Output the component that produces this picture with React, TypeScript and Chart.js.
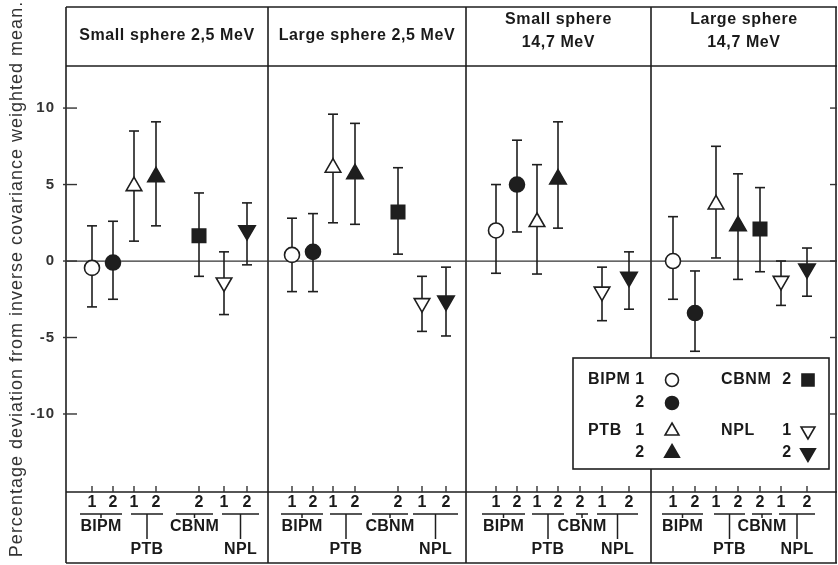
import React, { useEffect, useRef } from 'react';
import { Chart, registerables } from 'chart.js';
import { drawPoint } from 'chart.js/helpers';

Chart.register(...registerables);

// ---------- data ----------
const PANEL_TITLES = [
  ['Small sphere 2,5 MeV'],
  ['Large sphere 2,5 MeV'],
  ['Small sphere', '14,7 MeV'],
  ['Large sphere', '14,7 MeV'],
];
const Y_TITLE = 'Percentage deviation from inverse covariance weighted mean.';
const Y_TICKS = [-10, -5, 0, 5, 10];
const Y_MIN = -15.1;
const Y_MAX = 12.75;

// x axis (arbitrary units): panel edges and the 7 measurement slots in each panel
const PANEL_EDGES = [0, 20.2, 40.0, 58.5, 77.1];
const SLOT_X = [
  [2.6, 4.7, 6.8, 9.0, 13.3, 15.8, 18.1],
  [22.6, 24.7, 26.7, 28.9, 33.2, 35.6, 38.0],
  [43.0, 45.1, 47.1, 49.2, 51.4, 53.6, 56.3],
  [60.7, 62.9, 65.0, 67.2, 69.4, 71.5, 74.1],
];
const SLOT_LABELS = ['1', '2', '1', '2', '2', '1', '2'];

// bottom labelling groups per panel: [label, spanFrom, spanTo, row]
const GROUPS_P1: [string, number, number, number][] = [['BIPM', 1.4, 5.6, 1], ['PTB', 6.5, 9.7, 2], ['CBNM', 11.0, 14.7, 1], ['NPL', 15.6, 19.3, 2]];
const GROUPS_P2: [string, number, number, number][] = [['BIPM', 21.5, 25.7, 1], ['PTB', 26.4, 29.6, 2], ['CBNM', 30.6, 34.2, 1], ['NPL', 34.7, 39.2, 2]];
const GROUPS_P3: [string, number, number, number][] = [['BIPM', 41.6, 45.9, 1], ['PTB', 46.6, 49.8, 2], ['CBNM', 51.0, 52.2, 1], ['NPL', 53.1, 57.2, 2]];
const GROUPS_P4: [string, number, number, number][] = [['BIPM', 59.6, 63.7, 1], ['PTB', 64.8, 67.9, 2], ['CBNM', 68.6, 70.6, 1], ['NPL', 71.3, 74.9, 2]];
const GROUPS = [GROUPS_P1, GROUPS_P2, GROUPS_P3, GROUPS_P4];

// values per panel (Small 2.5, Large 2.5, Small 14.7, Large 14.7)
const BIPM1 = [-0.45, 0.4, 2.0, 0.0];
const BIPM1_HI = [2.3, 2.8, 5.0, 2.9];
const BIPM1_LO = [-3.0, -2.0, -0.8, -2.5];

const BIPM2 = [-0.1, 0.6, 5.0, -3.4];
const BIPM2_HI = [2.6, 3.1, 7.9, -0.65];
const BIPM2_LO = [-2.5, -2.0, 1.9, -5.9];

const PTB1 = [4.9, 6.1, 2.55, 3.7];
const PTB1_HI = [8.5, 9.6, 6.3, 7.5];
const PTB1_LO = [1.3, 2.5, -0.85, 0.2];

const PTB2 = [5.5, 5.7, 5.35, 2.3];
const PTB2_HI = [9.1, 9.0, 9.1, 5.7];
const PTB2_LO = [2.3, 2.4, 2.15, -1.2];

const CBNM2 = [1.65, 3.2, null, 2.1];
const CBNM2_HI = [4.45, 6.1, null, 4.8];
const CBNM2_LO = [-1.0, 0.45, null, -0.7];

const NPL1 = [-1.4, -2.75, -2.0, -1.3];
const NPL1_HI = [0.6, -1.0, -0.4, 0.0];
const NPL1_LO = [-3.5, -4.6, -3.9, -2.9];

const NPL2 = [2.0, -2.6, -1.05, -0.5];
const NPL2_HI = [3.8, -0.4, 0.6, 0.85];
const NPL2_LO = [-0.25, -4.9, -3.15, -2.3];

const INK = '#1e1e1e';
const FONT = '"Liberation Sans", Arial, Helvetica, sans-serif';

type S = {
  key: string; lab: string; n: string; slot: number;
  vals: (number | null)[]; hi: (number | null)[]; lo: (number | null)[];
  shape: string; rot: number; filled: boolean; r: number;
};

const SERIES: S[] = [
  { key: 'BIPM1', lab: 'BIPM', n: '1', slot: 0, vals: BIPM1, hi: BIPM1_HI, lo: BIPM1_LO, shape: 'circle', rot: 0, filled: false, r: 7.5 },
  { key: 'BIPM2', lab: 'BIPM', n: '2', slot: 1, vals: BIPM2, hi: BIPM2_HI, lo: BIPM2_LO, shape: 'circle', rot: 0, filled: true, r: 7.5 },
  { key: 'PTB1', lab: 'PTB', n: '1', slot: 2, vals: PTB1, hi: PTB1_HI, lo: PTB1_LO, shape: 'triangle', rot: 0, filled: false, r: 9 },
  { key: 'PTB2', lab: 'PTB', n: '2', slot: 3, vals: PTB2, hi: PTB2_HI, lo: PTB2_LO, shape: 'triangle', rot: 0, filled: true, r: 9.5 },
  { key: 'CBNM2', lab: 'CBNM', n: '2', slot: 4, vals: CBNM2, hi: CBNM2_HI, lo: CBNM2_LO, shape: 'rect', rot: 0, filled: true, r: 9.5 },
  { key: 'NPL1', lab: 'NPL', n: '1', slot: 5, vals: NPL1, hi: NPL1_HI, lo: NPL1_LO, shape: 'triangle', rot: 180, filled: false, r: 9 },
  { key: 'NPL2', lab: 'NPL', n: '2', slot: 6, vals: NPL2, hi: NPL2_HI, lo: NPL2_LO, shape: 'triangle', rot: 180, filled: true, r: 9.5 },
];

const LEGEND: { key: string; text: string; col: number; row: number }[] = [
  { key: 'BIPM1', text: 'BIPM', col: 0, row: 0 },
  { key: 'BIPM2', text: '', col: 0, row: 1 },
  { key: 'PTB1', text: 'PTB', col: 0, row: 2 },
  { key: 'PTB2', text: '', col: 0, row: 3 },
  { key: 'CBNM2', text: 'CBNM', col: 1, row: 0 },
  { key: 'NPL1', text: 'NPL', col: 1, row: 2 },
  { key: 'NPL2', text: '', col: 1, row: 3 },
];

// ---------- layout constants ----------
const HEADER_H = 59;
const FOOTER_H = 71;

function line(ctx: CanvasRenderingContext2D, x1: number, y1: number, x2: number, y2: number) {
  ctx.beginPath();
  ctx.moveTo(x1, y1);
  ctx.lineTo(x2, y2);
  ctx.stroke();
}

const framePlugin = {
  id: 'frame',
  beforeDraw(chart: any) {
    const ctx = chart.ctx as any;
    ctx.letterSpacing = '1px';
  },
  beforeDatasetsDraw(chart: any) {
    const ctx: CanvasRenderingContext2D = chart.ctx;
    const { left, right, top, bottom } = chart.chartArea;
    const xs = chart.scales.x;
    const ys = chart.scales.y;
    const frameTop = top - HEADER_H;
    const frameBottom = bottom + FOOTER_H;
    ctx.save();
    ctx.strokeStyle = INK;
    ctx.lineWidth = 1.6;
    // outer frame and horizontal band lines
    line(ctx, left, frameTop, right, frameTop);
    line(ctx, left, top, right, top);
    line(ctx, left, bottom, right, bottom);
    line(ctx, left, frameBottom, right, frameBottom);
    PANEL_EDGES.forEach((e) => {
      const px = Math.round(xs.getPixelForValue(e)) - (e === PANEL_EDGES[PANEL_EDGES.length - 1] ? 1 : 0);
      line(ctx, px, frameTop, px, frameBottom);
    });
    // zero line
    ctx.lineWidth = 1.3;
    ctx.strokeStyle = '#333';
    const y0 = ys.getPixelForValue(0);
    line(ctx, left, y0, right, y0);
    // y ticks (left crossing, right inward)
    ctx.lineWidth = 1.4;
    Y_TICKS.forEach((v) => {
      const py = ys.getPixelForValue(v);
      line(ctx, left - 3, py, left + 11, py);
      line(ctx, right - 7, py, right, py);
    });
    // x slot ticks at bottom of plot
    SLOT_X.forEach((slots) => slots.forEach((sx) => {
      const px = xs.getPixelForValue(sx);
      line(ctx, px, bottom - 6, px, bottom);
    }));

    // headers
    ctx.fillStyle = '#1a1a1a';
    ctx.textAlign = 'center';
    ctx.textBaseline = 'middle';
    ctx.font = `bold 16px ${FONT}`;
    (ctx as any).letterSpacing = '0.6px';
    PANEL_TITLES.forEach((lines, i) => {
      const cx = (xs.getPixelForValue(PANEL_EDGES[i]) + xs.getPixelForValue(PANEL_EDGES[i + 1])) / 2;
      if (lines.length === 1) {
        ctx.fillText(lines[0], cx, top - 30);
      } else {
        ctx.fillText(lines[0], cx, top - 46);
        ctx.fillText(lines[1], cx, top - 23);
      }
    });

    // bottom labels
    (ctx as any).letterSpacing = '0.3px';
    ctx.font = `bold 16px ${FONT}`;
    ctx.strokeStyle = INK;
    ctx.lineWidth = 1.5;
    SLOT_X.forEach((slots) => slots.forEach((sx, j) => {
      ctx.fillText(SLOT_LABELS[j], xs.getPixelForValue(sx), bottom + 11);
    }));
    GROUPS.forEach((groups) => groups.forEach(([lab, a, b, row]) => {
      const xa = xs.getPixelForValue(a);
      const xb = xs.getPixelForValue(b);
      const cx = (xa + xb) / 2;
      const uy = bottom + 22;
      line(ctx, xa, uy, xb, uy);
      if (row === 1) {
        line(ctx, cx, uy, cx, uy + 4);
        ctx.fillText(lab, cx, bottom + 35);
      } else {
        line(ctx, cx, uy, cx, bottom + 47);
        ctx.fillText(lab, cx, bottom + 58);
      }
    }));

    // error bars
    ctx.strokeStyle = INK;
    ctx.lineWidth = 1.6;
    SERIES.forEach((s) => {
      s.vals.forEach((v, p) => {
        if (v == null) return;
        const px = xs.getPixelForValue(SLOT_X[p][s.slot]);
        const pt = ys.getPixelForValue(s.hi[p] as number);
        const pb = ys.getPixelForValue(s.lo[p] as number);
        line(ctx, px, pt, px, pb);
        line(ctx, px - 5, pt, px + 5, pt);
        line(ctx, px - 5, pb, px + 5, pb);
      });
    });
    ctx.restore();
  },
  afterDatasetsDraw(chart: any) {
    const ctx: CanvasRenderingContext2D = chart.ctx;
    const { right, bottom } = chart.chartArea;
    const bx = right - 264;
    const by = bottom - 134;
    const bw = 256;
    const bh = 111;
    ctx.save();
    ctx.fillStyle = '#ffffff';
    ctx.fillRect(bx, by, bw, bh);
    ctx.strokeStyle = INK;
    ctx.lineWidth = 1.6;
    ctx.strokeRect(bx, by, bw, bh);
    const rowY = [22, 45, 73, 95];
    const labX = [15, 148];
    const numX = [67, 214];
    const mkX = [99, 235];
    ctx.font = `bold 16px ${FONT}`;
    (ctx as any).letterSpacing = '0.6px';
    ctx.textBaseline = 'middle';
    LEGEND.forEach((e) => {
      const s = SERIES.find((q) => q.key === e.key)!;
      const yy = by + rowY[e.row];
      ctx.fillStyle = '#1a1a1a';
      if (e.text) {
        ctx.textAlign = 'left';
        ctx.fillText(e.text, bx + labX[e.col], yy);
      }
      ctx.textAlign = 'center';
      ctx.fillText(s.n, bx + numX[e.col], yy);
      ctx.fillStyle = s.filled ? INK : '#ffffff';
      ctx.strokeStyle = INK;
      ctx.lineWidth = 1.6;
      drawPoint(ctx, { pointStyle: s.shape as any, radius: s.r - 1, rotation: s.rot, borderWidth: 1.6 }, bx + mkX[e.col], yy);
    });
    ctx.restore();
  },
};

export default function App() {
  const ref = useRef<HTMLCanvasElement | null>(null);
  useEffect(() => {
    if (!ref.current) return;
    const chart = new Chart(ref.current, {
      type: 'scatter',
      data: {
        datasets: SERIES.map((s) => ({
          label: `${s.lab} ${s.n}`,
          data: s.vals
            .map((v, p) => (v == null ? null : { x: SLOT_X[p][s.slot], y: v }))
            .filter((d) => d !== null) as { x: number; y: number }[],
          pointStyle: s.shape as any,
          rotation: s.rot,
          pointRadius: s.r,
          pointHoverRadius: s.r,
          backgroundColor: s.filled ? INK : '#ffffff',
          borderColor: INK,
          borderWidth: 1.6,
          showLine: false,
        })),
      },
      options: {
        animation: false,
        responsive: false,
        events: [],
        layout: { autoPadding: false, padding: { top: 66, bottom: 73, right: 1, left: 0 } },
        plugins: { legend: { display: false }, tooltip: { enabled: false } },
        scales: {
          x: { type: 'linear', min: PANEL_EDGES[0], max: PANEL_EDGES[PANEL_EDGES.length - 1], display: false },
          y: {
            type: 'linear',
            min: Y_MIN,
            max: Y_MAX,
            afterFit: (scale: any) => { scale.width = 66; },
            afterBuildTicks: (scale: any) => { scale.ticks = Y_TICKS.map((v) => ({ value: v })); },
            ticks: {
              padding: 3,
              color: '#333',
              font: { family: FONT, size: 15, weight: 'bold' },
              callback: (v: any) => String(v),
            },
            grid: { display: false },
            border: { display: false },
            title: {
              display: true,
              text: Y_TITLE,
              color: '#333',
              font: { family: FONT, size: 18, weight: 'normal' },
              padding: { top: 6, bottom: 0 },
            },
          },
        },
      },
      plugins: [framePlugin],
    });
    return () => chart.destroy();
  }, []);
  return (
    <div style={{ position: 'absolute', left: 0, top: 0, width: 838, height: 565, background: '#fff' }}>
      <canvas ref={ref} width={838} height={565} style={{ width: 838, height: 565, display: 'block' }} />
    </div>
  );
}
